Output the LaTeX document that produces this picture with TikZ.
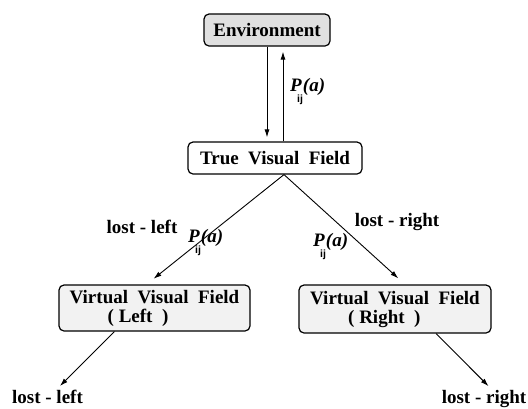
\documentclass[tikz,border=0pt]{standalone}
\usepackage{fontspec}
\setmainfont{Liberation Serif}
\newfontfamily\subsans{Liberation Sans}
\usetikzlibrary{arrows.meta}
\definecolor{envgray}{RGB}{224,224,224}
\definecolor{fieldgray}{RGB}{242,242,242}
\newcommand{\pij}{\textit{P}\kern1pt\llap{\raisebox{-11.5pt}{\subsans\fontsize{10.5}{10.5}\selectfont ij}}\textit{(a)}}

\begin{document}
\begin{tikzpicture}[x=1pt,y=-1pt,
        every node/.style={font=\fontsize{19}{19}\selectfont\bfseries},
        box/.style={rectangle,rounded corners=5pt,draw,line width=1.2pt,
          minimum height=32pt,inner sep=2pt},
        edge/.style={line width=0.9pt,-{Latex[length=8pt,width=5pt]}},
        lbl/.style={anchor=base,inner sep=2pt}]
        \useasboundingbox (0,0) rectangle (528,408);
        \node[box,fill=envgray,minimum width=126pt] (env) at (267,30) {Environment};
        \node[box,minimum width=174pt] (tvf) at (275,158) {True~~Visual~~Field};
        \node[box,fill=fieldgray,minimum width=191pt,minimum height=46pt,align=left] (vvfl) at (154.5,308)
          {Virtual~~Visual~~Field\\\hspace*{2em}( Left~~)};
        \node[box,fill=fieldgray,minimum width=192pt,minimum height=48pt,align=left] (vvfr) at (395,309)
          {Virtual~~Visual~~Field\\\hspace*{2em}( Right~~)};
        \node[lbl] (lostl) at (142,233) {lost - left};
        \node[lbl] (lostr) at (397,226) {lost - right};
        \node[lbl] (lostll) at (47.5,403) {lost - left};
        \node[lbl] (lostrr) at (484,403) {lost - right};
        \node[lbl,anchor=base west] (pup) at (288,91) {\pij};
        \node[lbl,anchor=base west] (pl) at (186,242) {\pij};
        \node[lbl,anchor=base west] (pr) at (311,246) {\pij};
        \coordinate (upfoot) at ([xshift=8pt]tvf.north);
        \coordinate (fork) at ([xshift=9pt]tvf.south);
        \draw[edge,shorten >=4pt] (env.south) -- (env.south |- tvf.north);
        \draw[edge,shorten >=5pt] (upfoot) -- (upfoot |- env.south);
        \draw[edge,shorten >=9pt] (fork) -- ([xshift=-8pt]vvfl.north);
        \draw[edge,shorten >=9pt] (fork) -- ([xshift=10pt]vvfr.north);
        \draw[edge,shorten >=2pt] ([xshift=-40pt]vvfl.south) -- ([xshift=11pt]lostll.north);
        \draw[edge,shorten >=2pt] ([xshift=41pt]vvfr.south) -- ([xshift=6pt]lostrr.north);
      \end{tikzpicture}
\end{document}
